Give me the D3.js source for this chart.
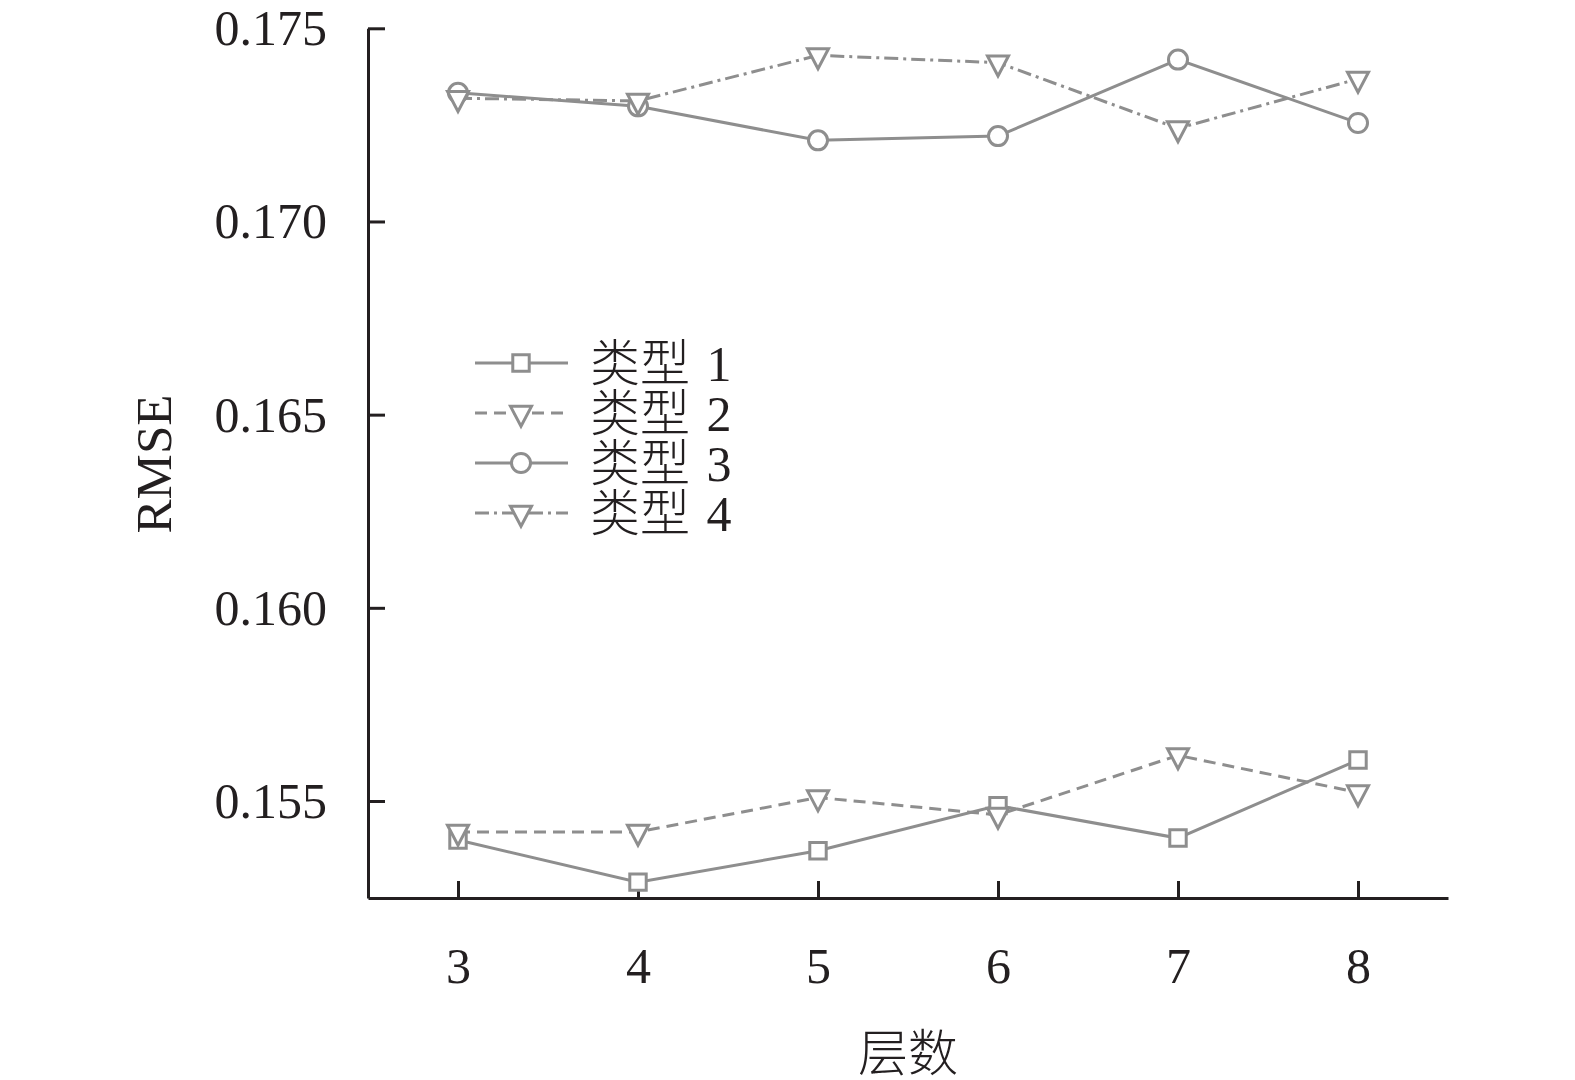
<!DOCTYPE html>
<html>
<head>
<meta charset="utf-8">
<script src="https://cdn.jsdelivr.net/npm/d3@7"></script>
<style>
  body { margin: 0; background: #fff; }
  svg { display: block; }
</style>
</head>
<body>
<div id="chart"></div>
<script>
// Data
const layers = [3, 4, 5, 6, 7, 8];
const type1 = [0.15399, 0.15290, 0.15371, 0.15488, 0.15404, 0.15606];
const type2 = [0.15420, 0.15420, 0.15509, 0.15464, 0.15618, 0.15522];
const type3 = [0.17333, 0.17298, 0.17210, 0.17221, 0.17419, 0.17255];
const type4 = [0.17319, 0.17312, 0.17430, 0.17411, 0.17241, 0.17369];
const seriesNames = ["类型 1", "类型 2", "类型 3", "类型 4"];
const yTicks = [0.155, 0.160, 0.165, 0.170, 0.175];
const xLabel = "层数";
const yLabel = "RMSE";

// Set up dimensions
const width = 1575;
const height = 1080;
const margin = { top: 28.3, right: 127, bottom: 182, left: 368 };
const gray = "#8e8e8e";
const ink = "#231f20";
const serif = "'Liberation Serif', 'Times New Roman', serif";
const cjk = "'Liberation Serif', 'Noto Sans CJK SC', serif";

const svg = d3.select("#chart")
    .append("svg")
    .attr("width", width)
    .attr("height", height);

// Scales
const x = d3.scaleLinear()
    .domain([2.5, 8.5])
    .range([margin.left, width - margin.right]);

const y = d3.scaleLinear()
    .domain([0.152489, 0.175])
    .range([height - margin.bottom, margin.top]);

// Down-pointing triangle, centred on its centroid
const triangleDown = {
    draw(ctx, size) {
        const w = Math.sqrt(size * 1.7);
        const h = w * 0.95;
        ctx.moveTo(-w / 2, -h / 3);
        ctx.lineTo(w / 2, -h / 3);
        ctx.lineTo(0, 2 * h / 3);
        ctx.closePath();
    }
};

const series = [
    { name: seriesNames[0], values: type1, symbol: d3.symbolSquare, size: 270, dash: null },
    { name: seriesNames[1], values: type2, symbol: triangleDown, size: 260, dash: "12,7" },
    { name: seriesNames[2], values: type3, symbol: d3.symbolCircle, size: 285, dash: null },
    { name: seriesNames[3], values: type4, symbol: triangleDown, size: 260, dash: "14,5,3,5" }
];

// Axes
const xAxis = d3.axisBottom(x)
    .tickValues(layers)
    .tickFormat(d3.format("d"))
    .tickSizeInner(-17)
    .tickSizeOuter(0)
    .tickPadding(49);

const yAxis = d3.axisLeft(y)
    .tickValues(yTicks)
    .tickFormat(d3.format(".3f"))
    .tickSizeInner(-17)
    .tickSizeOuter(0)
    .tickPadding(41);

const gx = svg.append("g")
    .attr("transform", `translate(0,${height - margin.bottom})`)
    .call(xAxis);

const gy = svg.append("g")
    .attr("transform", `translate(${margin.left},0)`)
    .call(yAxis);

[gx, gy].forEach(g => {
    g.select(".domain").attr("stroke", ink).attr("stroke-width", 3);
    g.selectAll(".tick line").attr("stroke", ink).attr("stroke-width", 3);
    g.selectAll(".tick text")
        .attr("fill", ink)
        .style("font-family", serif)
        .style("font-size", "50px");
});
gy.selectAll(".tick text").attr("dy", "0.33em");

// Axis titles
svg.append("text")
    .attr("x", (margin.left + width - margin.right) / 2)
    .attr("y", 1071)
    .attr("text-anchor", "middle")
    .attr("fill", ink)
    .style("font-family", cjk)
    .style("font-weight", 300)
    .style("font-size", "50px")
    .text(xLabel);

svg.append("text")
    .attr("transform", `translate(171,464) rotate(-90)`)
    .attr("text-anchor", "middle")
    .attr("fill", ink)
    .style("font-family", serif)
    .style("font-size", "51px")
    .text(yLabel);

// Lines and markers
const line = d3.line()
    .x((d, i) => x(layers[i]))
    .y(d => y(d));

series.forEach(s => {
    const g = svg.append("g");
    g.append("path")
        .datum(s.values)
        .attr("d", line)
        .attr("fill", "none")
        .attr("stroke", gray)
        .attr("stroke-width", 3)
        .attr("stroke-dasharray", s.dash);

    g.selectAll("path.marker")
        .data(s.values)
        .join("path")
        .attr("class", "marker")
        .attr("transform", (d, i) => `translate(${x(layers[i])},${y(d)})`)
        .attr("d", d3.symbol(s.symbol, s.size))
        .attr("fill", "#fff")
        .attr("stroke", gray)
        .attr("stroke-width", 3);
});

// Legend
const legend = svg.append("g")
    .attr("transform", "translate(475,363)");

const item = legend.selectAll("g")
    .data(series)
    .join("g")
    .attr("transform", (d, i) => `translate(0,${i * 50})`);

item.append("line")
    .attr("x1", 0)
    .attr("x2", 93)
    .attr("stroke", gray)
    .attr("stroke-width", 3)
    .attr("stroke-dasharray", d => d.dash);

item.append("path")
    .attr("transform", "translate(46,0)")
    .attr("d", d => d3.symbol(d.symbol, d.size)())
    .attr("fill", "#fff")
    .attr("stroke", gray)
    .attr("stroke-width", 3);

item.append("text")
    .attr("x", 115)
    .attr("dy", "0.35em")
    .attr("fill", ink)
    .style("font-family", cjk)
    .style("font-weight", 300)
    .style("word-spacing", "4px")
    .style("font-size", "50px")
    .text(d => d.name);
</script>
</body>
</html>
